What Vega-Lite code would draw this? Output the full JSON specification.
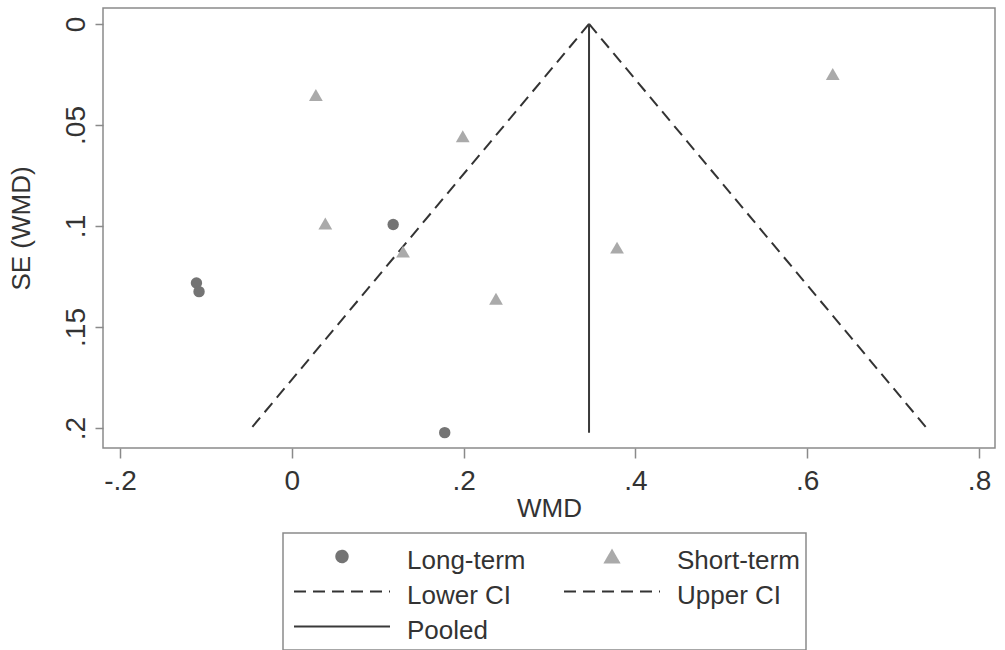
{
  "$schema": "https://vega.github.io/schema/vega-lite/v6.json",
  "width": 892,
  "height": 440,
  "autosize": "none",
  "padding": {"left": 103, "top": 8, "right": 10, "bottom": 202},
  "background": "white",
  "config": {
    "font": "Liberation Sans",
    "view": {"stroke": "#8a8a8a", "strokeWidth": 1.5},
    "axis": {
      "grid": false,
      "domain": false,
      "tickColor": "#8a8a8a",
      "tickWidth": 1.5,
      "labelFont": "Liberation Sans",
      "labelFontSize": 28,
      "labelColor": "#333333",
      "titleFont": "Liberation Sans",
      "titleFontSize": 26,
      "titleFontWeight": "normal",
      "titleColor": "#333333"
    },
    "legend": {
      "orient": "none",
      "legendX": 180,
      "legendY": 525,
      "columns": 2,
      "columnPadding": 33,
      "rowPadding": 0,
      "clipHeight": 35,
      "padding": 6,
      "symbolOffset": 4,
      "labelOffset": 16,
      "labelFont": "Liberation Sans",
      "labelFontSize": 26,
      "labelColor": "#333333",
      "strokeColor": "#8a8a8a",
      "symbolStrokeWidth": 2
    }
  },
  "datasets": {
    "studies": [
      {"series": "Long-term", "WMD": -0.111, "SE": 0.1282},
      {"series": "Long-term", "WMD": -0.108, "SE": 0.1325},
      {"series": "Long-term", "WMD": 0.118, "SE": 0.0993},
      {"series": "Long-term", "WMD": 0.178, "SE": 0.2023},
      {"series": "Short-term", "WMD": 0.028, "SE": 0.0352},
      {"series": "Short-term", "WMD": 0.039, "SE": 0.0988},
      {"series": "Short-term", "WMD": 0.199, "SE": 0.0556},
      {"series": "Short-term", "WMD": 0.1295, "SE": 0.1127},
      {"series": "Short-term", "WMD": 0.3786, "SE": 0.1107},
      {"series": "Short-term", "WMD": 0.2377, "SE": 0.136},
      {"series": "Short-term", "WMD": 0.6297, "SE": 0.0248}
    ],
    "lines": [
      {"series": "Lower CI", "WMD": 0.346, "SE": 0},
      {"series": "Lower CI", "WMD": -0.047, "SE": 0.2},
      {"series": "Upper CI", "WMD": 0.346, "SE": 0},
      {"series": "Upper CI", "WMD": 0.739, "SE": 0.2},
      {"series": "Pooled", "WMD": 0.346, "SE": 0},
      {"series": "Pooled", "WMD": 0.346, "SE": 0.2023}
    ]
  },
  "encoding": {
    "x": {
      "field": "WMD",
      "type": "quantitative",
      "scale": {"domain": [-0.2198, 0.8186], "nice": false, "zero": false},
      "axis": {
        "title": "WMD",
        "values": [-0.2, 0, 0.2, 0.4, 0.6, 0.8],
        "labelExpr": "datum.value == 0 ? '0' : replace(replace(format(datum.value, '.2~f'), '0.', '.'), '\u2212', '-')",
        "tickSize": 10,
        "labelPadding": 9,
        "titlePadding": 0
      }
    },
    "y": {
      "field": "SE",
      "type": "quantitative",
      "scale": {"domain": [-0.0079, 0.2099], "reverse": true, "nice": false, "zero": false},
      "axis": {
        "title": "SE (WMD)",
        "values": [0, 0.05, 0.1, 0.15, 0.2],
        "labelExpr": "datum.value == 0 ? '0' : replace(format(datum.value, '.2~f'), '0.', '.')",
        "tickSize": 8,
        "labelAngle": 270,
        "labelAlign": "center",
        "labelBaseline": "alphabetic",
        "labelPadding": 11,
        "titlePadding": 28
      }
    }
  },
  "layer": [
    {
      "data": {"name": "lines"},
      "mark": {"type": "line", "strokeWidth": 2},
      "encoding": {
        "color": {
          "field": "series",
          "type": "nominal",
          "scale": {
            "domain": ["Long-term", "Lower CI", "Pooled", "Short-term", "Upper CI"],
            "range": ["#747474", "#333333", "#3a3a3a", "#aaaaaa", "#333333"]
          },
          "legend": {
            "title": null,
            "encode": {
              "symbols": {
                "update": {
                  "size": {"signal": "datum.value === 'Long-term' ? 130 : datum.value === 'Short-term' ? 190 : 9216"},
                  "fill": {"signal": "(datum.value === 'Long-term' || datum.value === 'Short-term') ? scale('color', datum.value) : 'transparent'"},
                  "stroke": {"signal": "(datum.value === 'Long-term' || datum.value === 'Short-term') ? 'transparent' : scale('color', datum.value)"},
                  "strokeWidth": {"value": 2}
                }
              },
              "labels": {"update": {"dy": {"value": 4}}},
              "legend": {"update": {"strokeWidth": {"value": 1.5}}}
            }
          }
        },
        "strokeDash": {
          "field": "series",
          "type": "nominal",
          "scale": {
            "domain": ["Long-term", "Lower CI", "Pooled", "Short-term", "Upper CI"],
            "range": [[1, 0], [12, 7], [1, 0], [1, 0], [12, 7]]
          }
        },
        "detail": {"field": "series"},
        "order": {"field": "SE", "type": "quantitative"}
      }
    },
    {
      "data": {"name": "studies"},
      "transform": [{"filter": "datum.series === 'Long-term'"}],
      "mark": {"type": "point", "filled": true, "opacity": 1, "size": 130},
      "encoding": {
        "color": {"field": "series", "type": "nominal"},
        "shape": {
          "field": "series",
          "type": "nominal",
          "scale": {
            "domain": ["Long-term", "Lower CI", "Pooled", "Short-term", "Upper CI"],
            "range": ["circle", "stroke", "stroke", "triangle-up", "stroke"]
          }
        }
      }
    },
    {
      "data": {"name": "studies"},
      "transform": [{"filter": "datum.series === 'Short-term'"}],
      "mark": {"type": "point", "filled": true, "opacity": 1, "size": 190},
      "encoding": {
        "color": {"field": "series", "type": "nominal"},
        "shape": {"field": "series", "type": "nominal"}
      }
    }
  ]
}
